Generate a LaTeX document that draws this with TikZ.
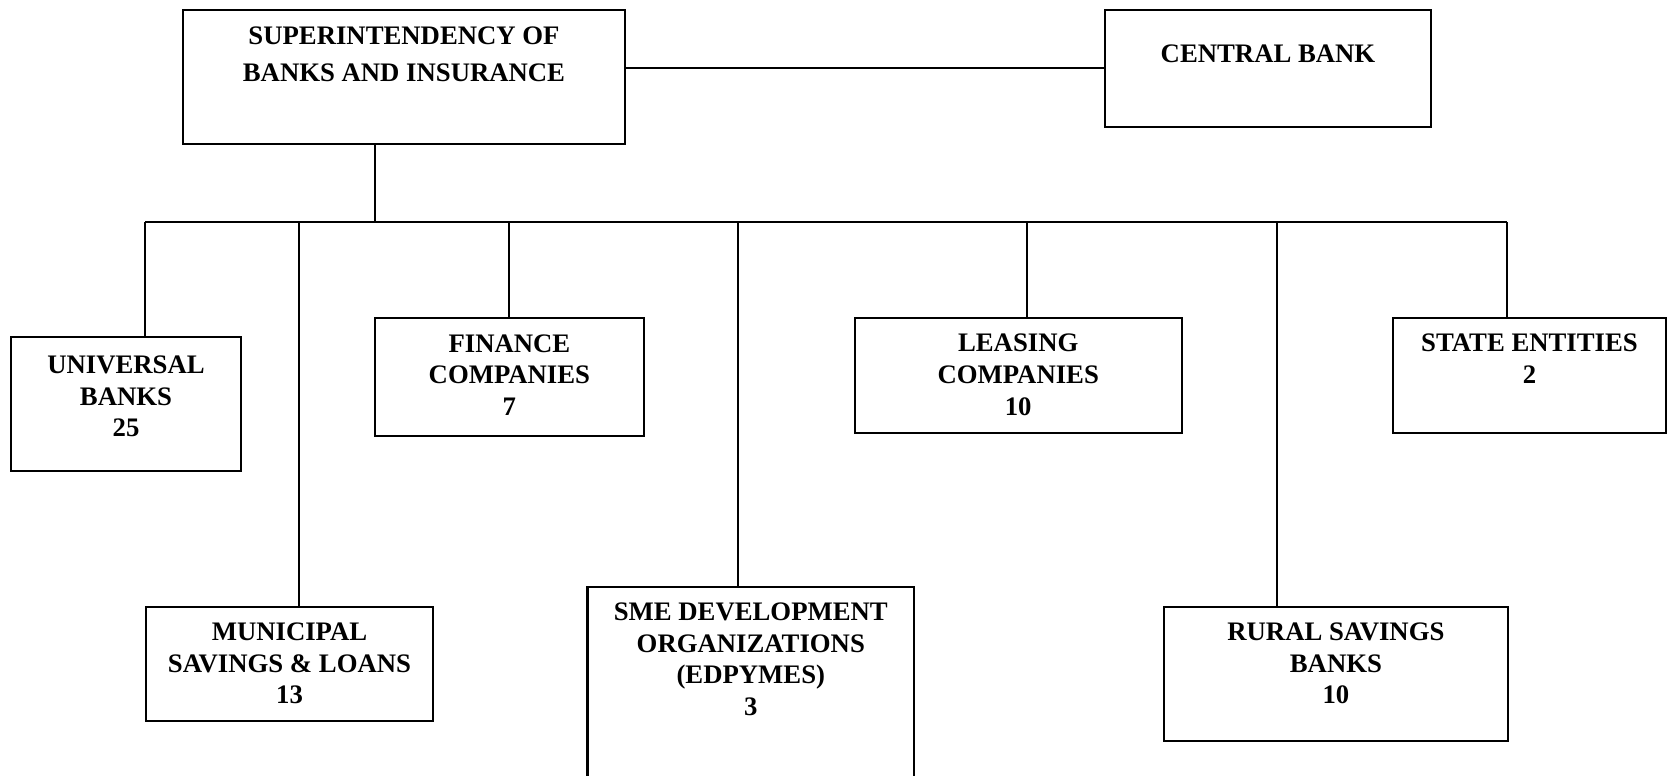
\documentclass[tikz,border=0pt]{standalone}
\usepackage{fontspec}
\setmainfont{Liberation Serif}
\usepackage{tikz}
\tikzstyle{orgbox}=[draw, rectangle, line width=0.6pt, inner sep=0pt]
\tikzstyle{orgtext}=[anchor=north, align=center, inner sep=0pt, font=\bfseries\fontsize{7.6}{9}\selectfont]

\begin{document}
\begin{tikzpicture}[x=0.01cm, y=-0.01cm, line width=0.6pt]
\clip (0,0) rectangle (1667,775);
\node[orgbox, minimum width=4.42cm, minimum height=1.34cm] (sup) at (404,77) {};
\node[orgbox, minimum width=3.265cm, minimum height=1.167cm] (cb) at (1268,68.4) {};
\node[orgbox, minimum width=2.30cm, minimum height=1.34cm] (ub) at (126,403.7) {};
\node[orgbox, minimum width=2.688cm, minimum height=1.177cm] (fc) at (509.4,377.2) {};
\node[orgbox, minimum width=3.269cm, minimum height=1.144cm] (lc) at (1018.2,375.5) {};
\node[orgbox, minimum width=2.73cm, minimum height=1.144cm] (se) at (1529.5,375.5) {};
\node[orgbox, minimum width=2.87cm, minimum height=1.14cm] (ms) at (289.5,663.7) {};
\node[orgbox, minimum width=3.265cm, minimum height=2.133cm] (sme) at (750.8,693.4) {};
\node[orgbox, minimum width=3.442cm, minimum height=1.34cm] (rs) at (1335.9,673.7) {};
\node[orgtext] (suptxt) at ([yshift=-0.17cm]sup.north) {SUPERINTENDENCY OF\\[1.5pt]BANKS AND INSURANCE};
\node[orgtext] (cbtxt) at ([yshift=-0.35cm]cb.north) {CENTRAL BANK};
\node[orgtext] (ubtxt) at ([yshift=-0.19cm]ub.north) {UNIVERSAL\\BANKS\\25};
\node[orgtext] (fctxt) at ([yshift=-0.16cm]fc.north) {FINANCE\\COMPANIES\\7};
\node[orgtext] (lctxt) at ([yshift=-0.16cm]lc.north) {LEASING\\COMPANIES\\10};
\node[orgtext] (setxt) at ([yshift=-0.16cm]se.north) {STATE ENTITIES\\2};
\node[orgtext] (mstxt) at ([yshift=-0.16cm]ms.north) {MUNICIPAL\\SAVINGS \& LOANS\\13};
\node[orgtext] (smetxt) at ([yshift=-0.16cm]sme.north) {SME DEVELOPMENT\\ORGANIZATIONS\\(EDPYMES)\\3};
\node[orgtext] (rstxt) at ([yshift=-0.16cm]rs.north) {RURAL SAVINGS\\BANKS\\10};
% bus and drops
\coordinate (jtop) at (375,222);
\coordinate (j-ub) at (145,222);
\coordinate (j-ms) at (299,222);
\coordinate (j-fc) at (509,222);
\coordinate (j-sme) at (738,222);
\coordinate (j-lc) at (1027,222);
\coordinate (j-rs) at (1277,222);
\coordinate (j-se) at (1507,222);
\draw (sup.east |- cb.west) -- (cb.west);
\draw (jtop |- sup.south) -- (jtop);
\draw (j-ub) -- (j-se);
\foreach \n in {ub,ms,fc,sme,lc,rs,se}
  \draw (j-\n) -- (j-\n |- \n.north);
\end{tikzpicture}
\end{document}
